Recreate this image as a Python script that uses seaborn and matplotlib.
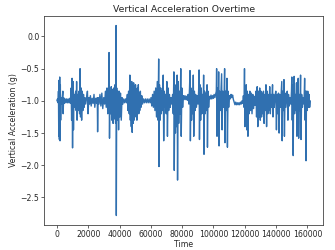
import numpy as np
import pandas as pd
import matplotlib
matplotlib.use("Agg")
import matplotlib.pyplot as plt
import seaborn as sns

# samples (sample index, vertical acceleration in g)
time = [
    0, 400, 800, 1000, 1200, 1400, 1600, 1800, 2000, 2200,
    2400, 2700, 3000, 3400, 3800, 4000, 4300, 4700, 5200, 5700,
    6200, 6700, 7200, 7700, 8200, 8700, 9100, 9400, 9700, 10000,
    10300, 10600, 10900, 11200, 11600, 12000, 12300, 12600, 12900, 13300,
    13700, 14100, 14500, 14800, 15100, 15500, 15800, 16200, 16600, 17000,
    17400, 17900, 18400, 19000, 19500, 19900, 20400, 20900, 21400, 21900,
    22500, 23100, 23700, 24200, 24800, 25400, 25800, 26000, 26300, 26900,
    27500, 28100, 28700, 29300, 29900, 30500, 31000, 31500, 32000, 32500,
    33000, 33300, 33600, 33900, 34300, 34700, 35100, 35500, 35900, 36300,
    36700, 37100, 37500, 37800, 37950, 38200, 38600, 39000, 39400, 39800,
    40200, 40600, 41100, 41600, 42100, 42700, 43300, 43900, 44500, 45000,
    45400, 45800, 46200, 46600, 46900, 47200, 47500, 47800, 48100, 48400,
    48700, 49000, 49300, 49600, 49900, 50200, 50500, 50800, 51100, 51400,
    51700, 52000, 52300, 52600, 52900, 53300, 53700, 54200, 54700, 55300,
    55900, 56500, 57100, 57700, 58300, 58900, 59500, 60100, 60600, 61100,
    61600, 62100, 62600, 63100, 63600, 64100, 64600, 65000, 65200, 65500,
    65900, 66300, 66700, 67100, 67500, 67900, 68200, 68600, 69000, 69400,
    69800, 70200, 70600, 71000, 71400, 71900, 72400, 72900, 73400, 73900,
    74300, 74700, 74950, 75300, 75700, 76100, 76500, 76800, 77050, 77400,
    77800, 78300, 78700, 79100, 79400, 79800, 80300, 80800, 81300, 81800,
    82300, 82800, 83300, 83800, 84300, 84700, 85000, 85250, 85600, 86000,
    86400, 86800, 87100, 87400, 87800, 88200, 88600, 89100, 89600, 90100,
    90500, 90800, 91050, 91400, 91800, 92200, 92600, 93000, 93400, 93700,
    93950, 94300, 94700, 95100, 95500, 95900, 96150, 96500, 96900, 97400,
    97900, 98400, 98900, 99400, 99900, 100400, 100900, 101400, 101800, 102000,
    102250, 102600, 103000, 103300, 103550, 103900, 104300, 104700, 105200, 105500,
    105900, 106300, 106800, 107100, 107350, 107700, 108100, 108600, 108900, 109300,
    109700, 110200, 110700, 111200, 111700, 112200, 112700, 113200, 113700, 114200,
    114700, 115200, 115700, 116200, 116700, 117200, 117700, 118200, 118700, 119100,
    119500, 119800, 120050, 120400, 120700, 120900, 121200, 121600, 122000, 122400,
    122800, 123200, 123600, 124100, 124600, 125100, 125600, 126100, 126600, 127100,
    127500, 127900, 128300, 128700, 129100, 129500, 129900, 130300, 130700, 131100,
    131500, 131900, 132300, 132700, 133100, 133500, 133900, 134300, 134700, 135100,
    135500, 135900, 136300, 136800, 137200, 137700, 138000, 138400, 138800, 139300,
    139800, 140200, 140600, 141000, 141500, 141900, 142300, 142800, 143300, 143600,
    143850, 144200, 144700, 145000, 145300, 145700, 146200, 146700, 147100, 147500,
    147900, 148400, 148900, 149400, 149800, 150000, 150300, 150600, 150900, 151200,
    151500, 151800, 152200, 152600, 153000, 153300, 153700, 154100, 154400, 154800,
    155200, 155600, 155900, 156300, 156800, 157300, 157800, 158200, 158500, 158800,
    159100, 159400, 159800, 160200, 160600, 161000, 161400, 161800,
]

accel = [
    -1.0, -0.97, -1.03, -0.85, -1.55, -0.68, -1.6, -0.63, -1.62, -0.75,
    -1.3, -0.95, -1.05, -0.97, -0.85, -1.2, -0.95, -1.04, -0.97, -1.03,
    -0.97, -1.03, -0.97, -1.03, -0.96, -1.04, -0.8, -1.3, -0.65, -1.73,
    -0.7, -1.45, -0.9, -1.1, -0.92, -0.85, -1.15, -0.7, -1.3, -0.9,
    -1.15, -0.85, -1.2, -0.5, -1.25, -0.8, -1.3, -0.85, -1.15, -0.9,
    -1.1, -0.95, -1.05, -0.95, -0.85, -1.2, -0.95, -1.05, -0.92, -1.08,
    -0.96, -1.04, -0.9, -1.1, -0.96, -1.04, -0.95, -1.48, -0.95, -1.05,
    -0.9, -1.08, -0.88, -1.12, -0.95, -1.05, -0.85, -1.1, -0.8, -1.2,
    -0.9, -0.25, -1.58, -0.85, -1.2, -0.78, -1.3, -0.82, -1.35, -0.8,
    -1.28, -0.75, -1.35, 0.17, -2.78, -0.8, -1.3, -0.85, -1.45, -0.85,
    -1.25, -0.88, -1.3, -0.95, -1.05, -0.97, -1.03, -0.97, -1.03, -0.9,
    -1.15, -0.85, -1.2, -0.6, -1.3, -0.75, -1.4, -0.7, -1.49, -0.8,
    -1.35, -0.72, -1.3, -0.8, -1.25, -0.75, -1.2, -0.85, -1.3, -0.8,
    -1.15, -0.75, -1.2, -0.88, -1.15, -0.85, -1.1, -0.92, -1.05, -0.97,
    -1.03, -0.97, -1.03, -0.97, -1.03, -0.97, -1.03, -0.95, -1.08, -0.9,
    -1.1, -0.85, -1.15, -0.8, -1.25, -0.7, -1.3, -0.35, -2.02, -0.75,
    -1.3, -0.8, -1.2, -0.85, -1.15, -0.6, -1.62, -0.85, -1.1, -0.9,
    -1.2, -0.7, -1.55, -0.8, -1.15, -0.9, -1.1, -0.95, -1.05, -0.9,
    -1.2, -0.55, -2.08, -0.8, -1.5, -0.75, -1.4, -0.6, -2.23, -0.7,
    -1.35, -0.85, -1.2, -0.5, -1.55, -0.8, -1.1, -0.92, -0.98, -0.92,
    -0.98, -0.93, -0.99, -0.9, -1.05, -0.8, -0.53, -1.62, -0.8, -1.3,
    -0.85, -1.2, -0.6, -1.55, -0.85, -1.15, -0.9, -1.1, -0.92, -1.05,
    -0.85, -0.52, -1.6, -0.75, -1.3, -0.8, -1.2, -0.9, -1.15, -0.6,
    -1.83, -0.85, -1.2, -0.88, -1.15, -0.75, -1.72, -0.85, -1.1, -0.93,
    -0.97, -0.91, -0.97, -0.92, -0.96, -0.9, -0.95, -0.89, -0.85, -0.5,
    -1.55, -0.8, -1.2, -0.55, -1.7, -0.85, -1.15, -0.9, -0.58, -1.45,
    -0.85, -1.1, -0.88, -0.5, -1.65, -0.85, -1.15, -0.65, -1.72, -0.85,
    -1.1, -0.92, -0.97, -0.9, -0.95, -0.91, -0.98, -1.02, -1.06, -1.02,
    -1.06, -1.03, -1.06, -1.03, -1.06, -1.02, -1.05, -1.0, -1.04, -0.92,
    -1.1, -0.5, -1.4, -0.8, -1.3, -0.75, -1.45, -0.85, -1.55, -0.9,
    -1.2, -0.85, -1.15, -0.88, -1.2, -0.9, -1.12, -0.93, -1.07, -0.85,
    -1.25, -0.78, -1.4, -0.85, -1.25, -0.8, -1.3, -0.85, -1.25, -0.88,
    -1.2, -0.85, -1.35, -0.9, -1.15, -0.75, -1.4, -0.85, -1.2, -0.9,
    -1.15, -0.78, -1.2, -0.9, -1.1, -0.75, -1.25, -0.9, -1.1, -0.92,
    -0.85, -1.45, -0.9, -1.2, -0.88, -1.5, -0.9, -1.1, -0.85, -0.7,
    -1.62, -0.85, -1.15, -0.67, -1.55, -0.88, -1.1, -0.92, -0.85, -1.3,
    -0.9, -1.08, -0.95, -1.05, -0.85, -0.63, -1.3, -0.75, -1.85, -0.8,
    -0.62, -1.2, -0.9, -1.15, -0.72, -1.55, -0.88, -0.65, -1.58, -0.9,
    -1.15, -0.6, -1.6, -0.9, -1.1, -0.95, -1.05, -0.65, -1.3, -0.85,
    -1.93, -0.85, -1.15, -0.85, -1.1, -0.9, -1.1, -1.0,
]

df = pd.DataFrame({"Time": time, "Vertical Acceleration (g)": accel})

sns.set_theme(style="ticks")
plt.rcParams["font.family"] = ["DejaVu Sans"]

fig, ax = plt.subplots(figsize=(3.35, 2.5), dpi=100)
fig.subplots_adjust(left=0.132, right=0.964, bottom=0.10, top=0.936)

sns.lineplot(data=df, x="Time", y="Vertical Acceleration (g)", ax=ax,
             color="#3070b0", linewidth=1.0, estimator=None)

ax.set_title("Vertical Acceleration Overtime", fontsize=6.7, pad=3)
ax.set_xlabel("Time", fontsize=5.6, labelpad=1)
ax.set_ylabel("Vertical Acceleration (g)", fontsize=5.6, labelpad=2)
ax.set_xticks(np.arange(0, 160001, 20000))
ax.set_yticks([0.0, -0.5, -1.0, -1.5, -2.0, -2.5])
ax.tick_params(labelsize=5.6, length=2, width=0.5, pad=1.5)
for s in ax.spines.values():
    s.set_linewidth(0.6)
    s.set_color("#444444")

plt.savefig("out.png", dpi=100)
plt.close()
